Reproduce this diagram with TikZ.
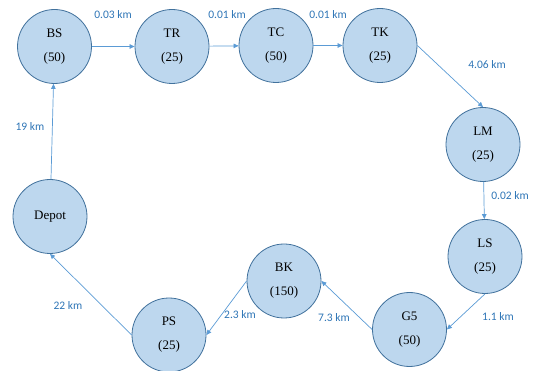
\documentclass[tikz,border=0pt]{standalone}
\usepackage{fontspec}
\setmainfont{Liberation Serif}
\newfontfamily\labelfont{Carlito}
\usetikzlibrary{arrows.meta}
\definecolor{stopfill}{HTML}{BDD7EE}
\definecolor{stopline}{HTML}{41719C}
\definecolor{routeline}{HTML}{5B9BD5}
\definecolor{kmtext}{HTML}{2E75B6}
\tikzset{
  stop/.style={circle,draw=stopline,fill=stopfill,line width=0.8pt,
    minimum size=74pt,inner sep=0pt,align=center,font=\fontsize{13}{24}\selectfont},
  route/.style={draw=routeline,line width=0.7pt,-{Triangle[length=5pt,width=4.5pt]}},
  km/.style={text=kmtext,font=\labelfont\fontsize{11.5}{13}\selectfont,inner sep=1pt}
}
\begin{document}
\begin{tikzpicture}[x=1pt,y=-1pt]
      \useasboundingbox (0,0) rectangle (533,371);
      \draw
        (54.5,46.5) node[stop] (BS){BS\\(50)}
        (172,46.5) node[stop] (TR){TR\\(25)}
        (276,45.5) node[stop] (TC){TC\\(50)}
        (380,45.5) node[stop] (TK){TK\\(25)}
        (483,144.5) node[stop] (LM){LM\\(25)}
        (485,256.5) node[stop] (LS){LS\\(25)}
        (409.5,329.5) node[stop] (G5){G5\\(50)}
        (284,281) node[stop] (BK){BK\\(150)}
        (169,335) node[stop] (PS){PS\\(25)}
        (50,216.5) node[stop] (Depot){Depot};
      \begin{scope}[route]
        \draw (BS) to (TR);
        \draw (TR) to (TC);
        \draw (TC) to (TK);
        \draw (TK.east) to (LM.north);
        \draw (LM) to (LS);
        \draw (LS.south) to (G5.east);
        \draw (G5.west) to (BK.east);
        \draw (BK.west) to (PS.east);
        \draw (PS.west) to (Depot.south);
        \draw (Depot) to (BS);
      \end{scope}
      \draw
        (113,15) node[km] (d1){0.03 km}
        (227,15) node[km] (d2){0.01 km}
        (328,15) node[km] (d3){0.01 km}
        (487,65) node[km] (d4){4.06 km}
        (510,196) node[km] (d5){0.02 km}
        (498,317) node[km] (d6){1.1 km}
        (334,318) node[km] (d7){7.3 km}
        (240,315) node[km] (d8){2.3 km}
        (68,306) node[km] (d9){22 km}
        (30,127) node[km] (d10){19 km};
    \end{tikzpicture}
\end{document}
